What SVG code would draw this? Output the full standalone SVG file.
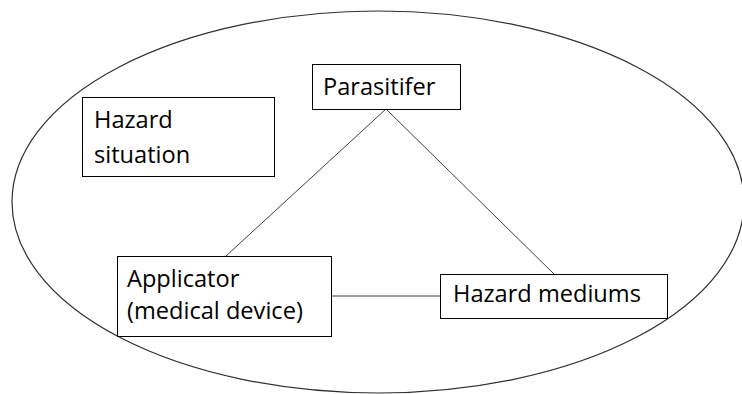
<svg xmlns="http://www.w3.org/2000/svg" width="742" height="394" viewBox="0 0 742 394">
  <style>
    .box { fill: #ffffff; stroke: #000000; stroke-width: 1; }
    .lbl { font-family: "Open Sans", "Liberation Sans", sans-serif; font-size: 23.6px; fill: #000000; }
    .link { stroke: #404040; stroke-width: 1; fill: none; }
  </style>
  <rect width="742" height="394" fill="#ffffff"/>
  <ellipse id="boundary" cx="378" cy="202" rx="366" ry="191" fill="none" stroke="#303030" stroke-width="1.2"/>
  <g id="connectors">
    <line class="link" x1="386" y1="109" x2="226" y2="256"/>
    <line class="link" x1="386" y1="109" x2="554" y2="274"/>
    <line class="link" x1="331" y1="296" x2="440" y2="296"/>
  </g>
  <g id="hazard-situation">
    <rect class="box" x="82.5" y="97.5" width="192" height="79"/>
    <text class="lbl" x="94" y="128">Hazard</text>
    <text class="lbl" x="94" y="163">situation</text>
  </g>
  <g id="parasitifer">
    <rect class="box" x="312.5" y="64.5" width="148" height="45"/>
    <text class="lbl" x="323" y="95">Parasitifer</text>
  </g>
  <g id="applicator">
    <rect class="box" x="117.5" y="256.5" width="214" height="80"/>
    <text class="lbl" x="127" y="287">Applicator</text>
    <text class="lbl" x="127" y="319">(medical device)</text>
  </g>
  <g id="hazard-mediums">
    <rect class="box" x="440.5" y="274.5" width="227" height="44"/>
    <text class="lbl" x="453" y="302">Hazard mediums</text>
  </g>
</svg>
